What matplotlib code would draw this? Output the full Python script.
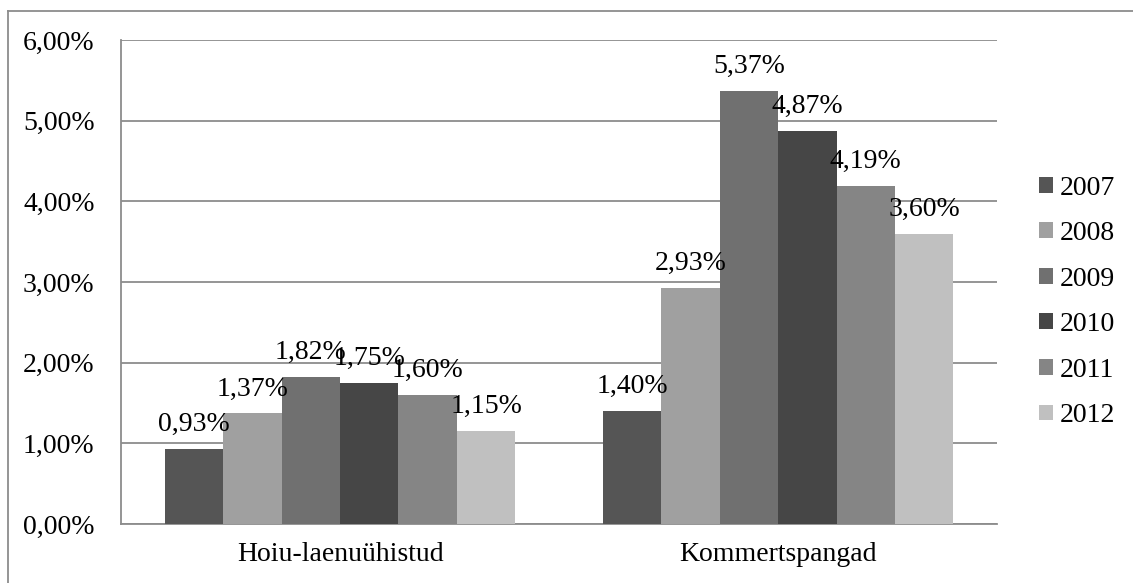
import numpy as np
import matplotlib.pyplot as plt
from matplotlib.lines import Line2D
from matplotlib.ticker import FuncFormatter

plt.rcParams['font.family'] = ['Liberation Serif', 'DejaVu Serif']

categories = ['Hoiu-laenuühistud', 'Kommertspangad']
years = ['2007', '2008', '2009', '2010', '2011', '2012']
values = {
	'2007': [0.93, 1.40],
	'2008': [1.37, 2.93],
	'2009': [1.82, 5.37],
	'2010': [1.75, 4.87],
	'2011': [1.60, 4.19],
	'2012': [1.15, 3.60],
}
colors = ['#555555', '#a0a0a0', '#707070', '#464646', '#858585', '#c0c0c0']
yticks = [0, 1, 2, 3, 4, 5, 6]

def pct(v):
	return ('%.2f%%' % v).replace('.', ',')

fig = plt.figure(figsize=(11.33, 5.83), dpi=100)
ax = fig.add_axes([0.1068, 0.1012, 0.7733, 0.8302])

grid_col = '#8c8c8c'
fs = 20
x = np.arange(len(categories))
group = 0.8
w = group / len(years)

for i, yr in enumerate(years):
	pos = x - group / 2 + w * (i + 0.5)
	bars = ax.bar(pos, values[yr], width=w, color=colors[i], label=yr, zorder=3)
	for b, v in zip(bars, values[yr]):
		ax.annotate(pct(v), (b.get_x() + b.get_width() / 2, v),
			xytext=(0, 13), textcoords='offset points',
			ha='center', va='baseline', fontsize=fs, zorder=4)

ax.set_xlim(-0.5, 1.5)
ax.set_ylim(0, 6)
ax.set_yticks(yticks)
ax.yaxis.set_major_formatter(FuncFormatter(lambda v, p: pct(v)))
ax.set_xticks(x)
ax.set_xticklabels(categories)
ax.tick_params(axis='y', length=0, pad=19, labelsize=fs)
ax.tick_params(axis='x', length=0, pad=13, labelsize=fs)
ax.grid(axis='y', color=grid_col, linewidth=1.3, zorder=0)
for s in ['top', 'right']:
	ax.spines[s].set_visible(False)
ax.spines['left'].set_color(grid_col)
ax.spines['left'].set_linewidth(1.3)
ax.spines['bottom'].set_color(grid_col)
ax.spines['bottom'].set_linewidth(1.3)

fig.legend(loc='center left', bbox_to_anchor=(0.917, 0.482), frameon=False,
	fontsize=fs, handlelength=0.5, handleheight=0.5, handletextpad=0.25,
	labelspacing=0.74, borderaxespad=0, borderpad=0)

# outer chart border (cut off at right and bottom)
fig.add_artist(Line2D([8 / 1133, 1], [1 - 11 / 583, 1 - 11 / 583], color='#8c8c8c', linewidth=1.3))
fig.add_artist(Line2D([8 / 1133, 8 / 1133], [0, 1 - 11 / 583], color='#8c8c8c', linewidth=1.3))

fig.savefig('out.png', dpi=100)
